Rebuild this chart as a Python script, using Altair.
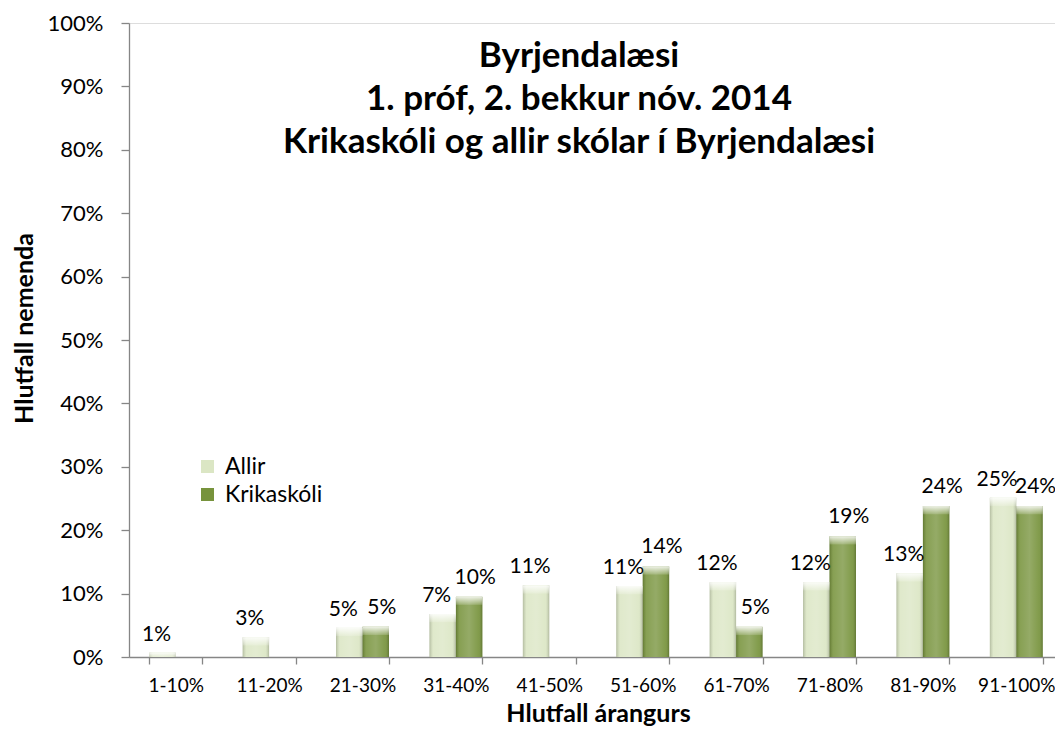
import altair as alt
import pandas as pd

# ---- data ----
categories = ["1-10%", "11-20%", "21-30%", "31-40%", "41-50%",
              "51-60%", "61-70%", "71-80%", "81-90%", "91-100%"]
allir = [0.007, 0.031, 0.046, 0.068, 0.113, 0.112, 0.118, 0.118, 0.132, 0.251]
krikaskoli = [0.0, 0.0, 0.0476, 0.0952, 0.0, 0.1429, 0.0476, 0.1905, 0.2381, 0.2381]
series = ["Allir", "Krikaskóli"]
series_colors = ["#dbe6c4", "#77933c"]
title_lines = ["Byrjendalæsi", "1. próf, 2. bekkur nóv. 2014",
               "Krikaskóli og allir skólar í Byrjendalæsi"]
y_ticks = [0.0, 0.1, 0.2, 0.3, 0.4, 0.5, 0.6, 0.7, 0.8, 0.9, 1.0]

rows = []
for i, c in enumerate(categories):
    rows.append({"flokkur": c, "hopur": series[0], "gildi": allir[i]})
    rows.append({"flokkur": c, "hopur": series[1], "gildi": krikaskoli[i]})
df = pd.DataFrame(rows)

FONT = "Lato"
AXIS_GREY = "#868686"

x_enc = alt.X(
    "flokkur:N", sort=categories,
    scale=alt.Scale(range=[0, 934], paddingInner=0.433, paddingOuter=0.2165),
    axis=alt.Axis(
        title="Hlutfall árangurs", labelAngle=0, tickBand="extent", tickSize=7,
        labelPadding=12, labelFontSize=19, labelFont=FONT, labelColor="black",
        titleFontSize=25, titleFont=FONT, titleFontWeight="bold", titleColor="black",
        titleX=469, titleY=64, titleBaseline="alphabetic", titleAlign="center",
        domainColor=AXIS_GREY, tickColor=AXIS_GREY, domainWidth=1.3, tickWidth=1.3,
    ),
)
xoff_enc = alt.XOffset("hopur:N", sort=series, scale=alt.Scale(paddingInner=0, paddingOuter=0))
y_enc = alt.Y(
    "gildi:Q", scale=alt.Scale(domain=[0, 1], nice=False),
    axis=alt.Axis(
        title="Hlutfall nemenda", values=y_ticks, format=".0%", grid=False,
        tickSize=8, labelPadding=18, labelFontSize=22, labelFont=FONT, labelColor="black",
        titleFontSize=25, titleFont=FONT, titleFontWeight="bold", titleColor="black",
        titleX=-97, titleY=305, titleAngle=-90, titleBaseline="alphabetic", titleAlign="center",
        domainColor=AXIS_GREY, tickColor=AXIS_GREY, domainWidth=1.3, tickWidth=1.3,
    ),
)

base = alt.Chart(df).mark_bar().encode(
    x=x_enc, xOffset=xoff_enc, y=y_enc,
    color=alt.Color(
        "hopur:N", sort=series,
        scale=alt.Scale(domain=series, range=series_colors),
        legend=alt.Legend(
            title=None, orient="none", legendX=67, legendY=432,
            symbolType="square", symbolSize=169, symbolStrokeWidth=0,
            labelFontSize=23, labelFont=FONT, labelColor="black",
            rowPadding=4, labelOffset=6,
        ),
    ),
)

shade = alt.Chart(df).transform_filter("datum.gildi > 0").mark_bar(
    color=alt.Gradient(
        gradient="linear", x1=0, x2=1, y1=0, y2=0,
        stops=[
            alt.GradientStop(offset=0.0, color="rgba(0,0,0,0.18)"),
            alt.GradientStop(offset=0.14, color="rgba(255,255,255,0.12)"),
            alt.GradientStop(offset=0.5, color="rgba(255,255,255,0.22)"),
            alt.GradientStop(offset=0.86, color="rgba(255,255,255,0.08)"),
            alt.GradientStop(offset=1.0, color="rgba(0,0,0,0.2)"),
        ],
    )
).encode(x=x_enc, xOffset=xoff_enc, y=y_enc)

cap = alt.Chart(df).transform_filter("datum.gildi > 0").transform_calculate(
    cap_nedst="max(datum.gildi - 0.013, 0)"
).mark_bar(
    color=alt.Gradient(
        gradient="linear", x1=0, x2=0, y1=0, y2=1,
        stops=[
            alt.GradientStop(offset=0.0, color="rgba(255,255,255,0.85)"),
            alt.GradientStop(offset=1.0, color="rgba(255,255,255,0.15)"),
        ],
    )
).encode(x=x_enc, xOffset=xoff_enc, y=y_enc, y2="cap_nedst:Q")

labels_allir = alt.Chart(df).transform_filter(
    f"datum.gildi > 0 && datum.hopur == '{series[0]}'"
).mark_text(
    dy=-12, dx=-6, baseline="alphabetic", fontSize=21, font=FONT, color="black"
).encode(x=x_enc, xOffset=xoff_enc, y=y_enc, text=alt.Text("gildi:Q", format=".0%"))

labels_krik = alt.Chart(df).transform_filter(
    f"datum.gildi > 0 && datum.hopur == '{series[1]}'"
).mark_text(
    dy=-13, dx=6, baseline="alphabetic", fontSize=21, font=FONT, color="black"
).encode(x=x_enc, xOffset=xoff_enc, y=y_enc, text=alt.Text("gildi:Q", format=".0%"))

chart = alt.layer(base, shade, cap, labels_allir, labels_krik).properties(
    width=926, height=634,
    padding={"left": 121, "top": 15, "right": 0, "bottom": 72},
    autosize=alt.AutoSizeParams(type="none"),
    title=alt.TitleParams(
        text=title_lines, font=FONT, fontSize=35, fontWeight="bold", color="black",
        anchor="middle", frame="group", offset=-148, lineHeight=43, dx=-13,
    ),
).configure_view(stroke=None).configure(background="white")

chart.save("out.html", embed_options={"renderer": "svg", "actions": False})
